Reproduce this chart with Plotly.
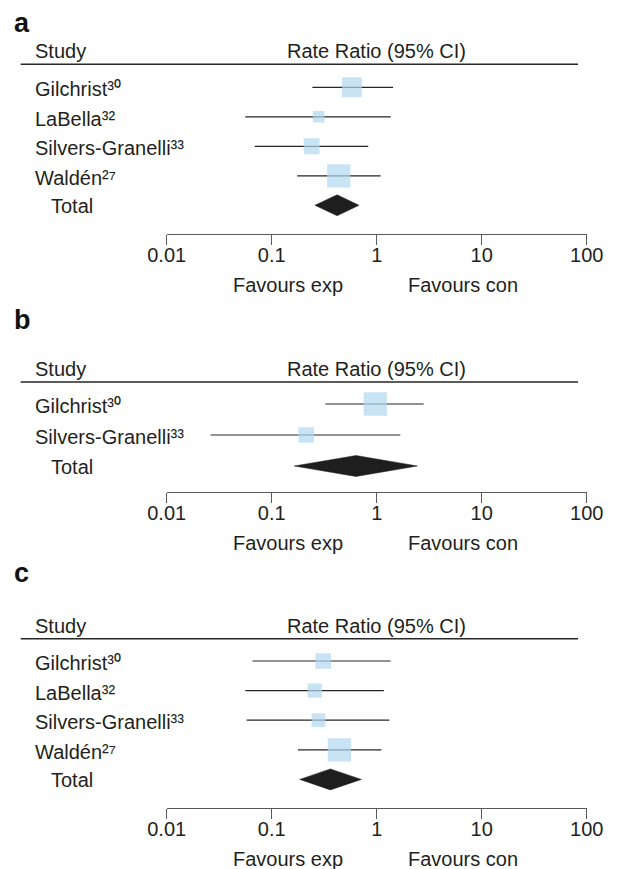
import math
import plotly.graph_objects as go

# ---------------- data ----------------
a_studies = ["Gilchrist³⁰", "LaBella³²", "Silvers-Granelli³³", "Waldén²⁷"]
a_est = [0.58, 0.28, 0.24, 0.435]
a_lo = [0.244, 0.056, 0.069, 0.175]
a_hi = [1.43, 1.36, 0.83, 1.09]
a_weight = [30, 10, 19, 41]
a_total = [0.42, 0.258, 0.678]  # estimate, lower, upper

b_studies = ["Gilchrist³⁰", "Silvers-Granelli³³"]
b_est = [0.97, 0.213]
b_lo = [0.324, 0.0262]
b_hi = [2.80, 1.68]
b_weight = [69, 31]
b_total = [0.635, 0.164, 2.44]

c_studies = ["Gilchrist³⁰", "LaBella³²", "Silvers-Granelli³³", "Waldén²⁷"]
c_est = [0.309, 0.257, 0.279, 0.441]
c_lo = [0.0656, 0.0562, 0.0577, 0.178]
c_hi = [1.36, 1.17, 1.32, 1.11]
c_weight = [21, 17, 16, 46]
c_total = [0.362, 0.185, 0.715]

panel_letters = ["a", "b", "c"]
tick_values = [0.01, 0.1, 1, 10, 100]
tick_labels = ["0.01", "0.1", "1", "10", "100"]
header_study = "Study"
header_effect = "Rate Ratio (95% CI)"
total_label = "Total"
favours_left = "Favours exp"
favours_right = "Favours con"

# ---------------- layout / style ----------------
W, H = 619, 869
FONT = "Liberation Sans, Arial, Helvetica, sans-serif"
TXT = "#231f20"
BOX = "#b0d8f0"
DIAMOND = "#1e1e1e"
LINE = "#262626"
AXIS = "#5a5a5a"
FS = 20
MAXBOX = 23.3
DIAM_HALF = 10.5

x_dom = [166.7 / W, 586.7 / W]
label_x = 33.3 / W
total_x = 49.3 / W

# pixel layout per panel: letter baseline, header line, axis line, first row, row step
panel_px = [
    dict(letter=31, header=64.3, axis=233.5, y0=87.3, d=29.5),
    dict(letter=328, header=382, axis=492, y0=404, d=31),
    dict(letter=581, header=638.7, axis=808, y0=661, d=29.6),
]

panels = [
    (a_studies, a_est, a_lo, a_hi, a_weight, a_total),
    (b_studies, b_est, b_lo, b_hi, b_weight, b_total),
    (c_studies, c_est, c_lo, c_hi, c_weight, c_total),
]

fig = go.Figure()
shapes = []
annotations = []
layout_axes = {}

for p, (studies, est, lo, hi, wt, tot) in enumerate(panels):
    px = panel_px[p]
    sfx = "" if p == 0 else str(p + 1)
    xa, ya = "x" + sfx, "y" + sfx
    n = len(studies)
    rows = list(range(n))
    trow = n

    # CI lines
    xs, ys = [], []
    for i in rows:
        xs += [lo[i], hi[i], None]
        ys += [i, i, None]
    fig.add_trace(go.Scatter(x=xs, y=ys, mode="lines", line=dict(color=LINE, width=1.2),
                             xaxis=xa, yaxis=ya, showlegend=False, hoverinfo="skip"))
    # boxes
    mw = max(wt)
    sizes = [MAXBOX * math.sqrt(w / mw) for w in wt]
    fig.add_trace(go.Scatter(x=est, y=rows, mode="markers",
                             marker=dict(symbol="square", size=sizes, color=BOX, line=dict(width=0)),
                             xaxis=xa, yaxis=ya, showlegend=False))
    # diamond
    h = DIAM_HALF / px["d"]
    e, l, u = tot
    fig.add_trace(go.Scatter(x=[l, e, u, e, l], y=[trow, trow - h, trow, trow + h, trow],
                             mode="lines", fill="toself", fillcolor=DIAMOND,
                             line=dict(color=DIAMOND, width=0.5),
                             xaxis=xa, yaxis=ya, showlegend=False))

    ydom = [1 - px["axis"] / H, 1 - px["header"] / H]
    i_bot = (px["axis"] - px["y0"]) / px["d"]
    i_top = (px["header"] - px["y0"]) / px["d"]
    layout_axes["xaxis" + sfx] = dict(
        type="log", range=[-2, 2], domain=x_dom, anchor=ya, automargin=False,
        showline=True, linecolor=AXIS, linewidth=1.3, mirror=False,
        ticks="outside", ticklen=10, tickwidth=1.3, tickcolor=AXIS,
        tickvals=tick_values, ticktext=tick_labels, ticklabelstandoff=-7,
        tickfont=dict(family=FONT, size=FS, color=TXT),
        showgrid=False, zeroline=False, fixedrange=True,
    )
    layout_axes["yaxis" + sfx] = dict(
        range=[i_bot, i_top], domain=ydom, anchor=xa, visible=False, automargin=False,
        showgrid=False, zeroline=False, fixedrange=True,
    )

    # header line
    shapes.append(dict(type="line", xref="paper", yref=ya + " domain",
                       x0=20.7 / W, x1=578 / W, y0=1, y1=1,
                       line=dict(color=LINE, width=1.5)))
    # line of no effect
    shapes.append(dict(type="line", xref=xa, yref=ya + " domain",
                       x0=math.log10(1), x1=math.log10(1), y0=0, y1=1,
                       line=dict(color=LINE, width=1.2)))

    # header texts
    annotations.append(dict(text=header_study, xref="paper", yref=ya + " domain",
                            x=label_x, y=1, xanchor="left", yanchor="middle", yshift=13,
                            showarrow=False, font=dict(family=FONT, size=FS, color=TXT)))
    annotations.append(dict(text=header_effect, xref=xa, yref=ya + " domain",
                            x=math.log10(1), y=1, xanchor="center", yanchor="middle", yshift=13,
                            showarrow=False, font=dict(family=FONT, size=FS, color=TXT)))
    # study labels
    for i in rows:
        annotations.append(dict(text=studies[i], xref="paper", yref=ya, x=label_x, y=i,
                                xanchor="left", yanchor="middle", yshift=-2, showarrow=False,
                                font=dict(family=FONT, size=FS, color=TXT)))
    annotations.append(dict(text=total_label, xref="paper", yref=ya, x=total_x, y=trow,
                            xanchor="left", yanchor="middle", yshift=-1, showarrow=False,
                            font=dict(family=FONT, size=FS, color=TXT)))
    # favours
    annotations.append(dict(text=favours_left, xref="paper", yref=ya + " domain",
                            x=345 / W, y=0, xanchor="right", yanchor="middle", yshift=-51,
                            showarrow=False, font=dict(family=FONT, size=FS, color=TXT)))
    annotations.append(dict(text=favours_right, xref="paper", yref=ya + " domain",
                            x=406 / W, y=0, xanchor="left", yanchor="middle", yshift=-51,
                            showarrow=False, font=dict(family=FONT, size=FS, color=TXT)))
    # panel letter
    annotations.append(dict(text="<b>" + panel_letters[p] + "</b>", xref="paper", yref="paper",
                            x=12 / W, y=1 - (px["letter"] - 8) / H, xanchor="left", yanchor="middle",
                            showarrow=False, font=dict(family=FONT, size=27, color="#111")))

fig.update_layout(
    width=W, height=H, margin=dict(l=0, r=0, t=0, b=0, pad=0, autoexpand=False),
    paper_bgcolor="white", plot_bgcolor="white",
    showlegend=False, shapes=shapes, annotations=annotations,
    **layout_axes,
)

fig.write_html("out.html", config={"displayModeBar": False})

# remove the default page margin so the figure fills the window exactly
with open("out.html", "r", encoding="utf-8") as f:
    html = f.read()
html = html.replace("<head>", "<head><style>html,body{margin:0;padding:0;overflow:hidden;}</style>", 1)
with open("out.html", "w", encoding="utf-8") as f:
    f.write(html)
